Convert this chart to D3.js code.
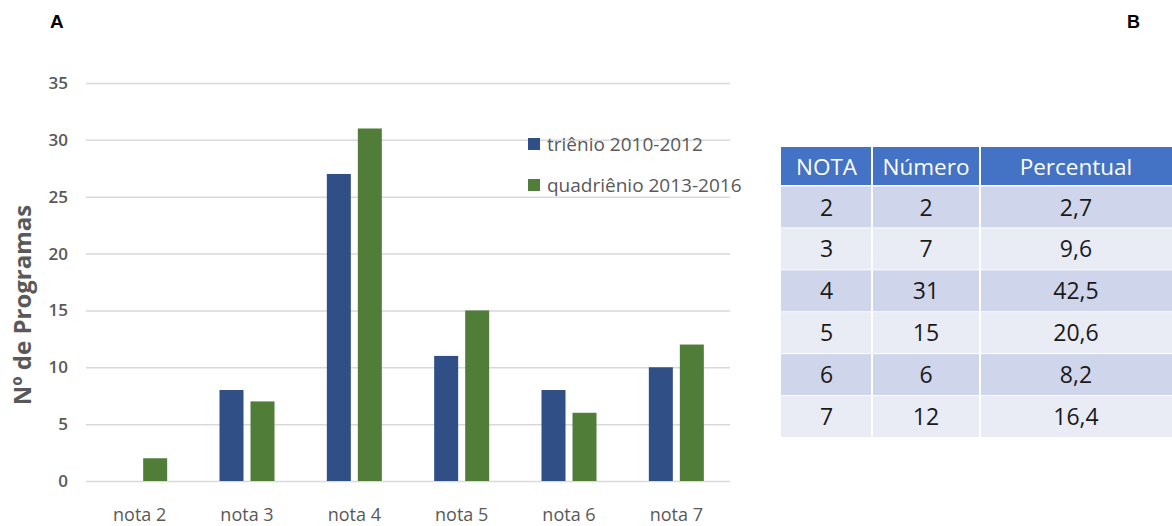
<!DOCTYPE html>
<html>
<head>
<meta charset="utf-8">
<script src="https://cdn.jsdelivr.net/npm/d3@7"></script>
<style>
  body { margin: 0; background: #ffffff; }
  svg { display: block; }
  .grid line { stroke: #d9d9d9; stroke-width: 1.5; }
  .grid .domain { display: none; }
</style>
</head>
<body>
<script>
const categories = ["nota 2", "nota 3", "nota 4", "nota 5", "nota 6", "nota 7"];
const seriesNames = ["triênio 2010-2012", "quadriênio 2013-2016"];
const trienio = [0, 8, 27, 11, 8, 10];
const quadrienio = [2, 7, 31, 15, 6, 12];
const yTicks = [0, 5, 10, 15, 20, 25, 30, 35];

const tableHeader = ["NOTA", "Número", "Percentual"];
const tableNota = ["2", "3", "4", "5", "6", "7"];
const tableNumero = ["2", "7", "31", "15", "6", "12"];
const tablePercentual = ["2,7", "9,6", "42,5", "20,6", "8,2", "16,4"];

const colors = ["#2f4f86", "#507e38"];
const font = "'Open Sans', sans-serif";

const W = 1172, H = 526;
const svg = d3.select("body").append("svg")
    .attr("width", W)
    .attr("height", H)
    .style("font-family", font);

// panel letters
svg.append("text").attr("x", 50).attr("y", 28)
    .style("font-family", "'Liberation Sans', Arial, sans-serif")
    .style("font-weight", "bold").style("font-size", "19px").text("A");
svg.append("text").attr("x", 1127).attr("y", 28)
    .style("font-family", "'Liberation Sans', Arial, sans-serif")
    .style("font-weight", "bold").style("font-size", "18px").text("B");

// ---- chart A ----
const x0 = d3.scaleBand().domain(categories).range([86, 730]);
const x1 = d3.scaleBand().domain(seriesNames)
    .range([x0.bandwidth() / 2 - 27.5, x0.bandwidth() / 2 + 27.5])
    .paddingInner(7 / 31);
const y = d3.scaleLinear().domain([0, 35]).range([481, 83]);

svg.append("g")
    .attr("class", "grid")
    .attr("transform", "translate(86,0)")
    .call(d3.axisLeft(y).tickValues(yTicks).tickSize(-644).tickFormat(""));

svg.append("g").selectAll("text")
    .data(yTicks)
    .enter().append("text")
    .attr("x", 68)
    .attr("y", d => y(d))
    .attr("dy", "0.35em")
    .attr("text-anchor", "end")
    .style("font-size", "17px")
    .style("font-weight", "600")
    .style("fill", "#595959")
    .text(d => d);

const series = [trienio, quadrienio];
series.forEach((vals, s) => {
    svg.append("g").selectAll("rect")
        .data(vals)
        .enter().append("rect")
        .attr("x", (d, i) => x0(categories[i]) + x1(seriesNames[s]))
        .attr("y", d => y(d))
        .attr("width", x1.bandwidth())
        .attr("height", d => y(0) - y(d))
        .attr("fill", colors[s]);
});

svg.append("g").selectAll("text")
    .data(categories)
    .enter().append("text")
    .attr("x", d => x0(d) + x0.bandwidth() / 2)
    .attr("y", 521)
    .attr("text-anchor", "middle")
    .style("font-size", "18px")
    .style("fill", "#595959")
    .text(d => d);

svg.append("text")
    .attr("transform", "translate(31,305) rotate(-90)")
    .attr("text-anchor", "middle")
    .style("font-size", "24px")
    .style("font-weight", "bold")
    .style("fill", "#595959")
    .text("Nº de Programas");

// legend
const legend = svg.append("g").selectAll("g")
    .data(seriesNames)
    .enter().append("g")
    .attr("transform", (d, i) => "translate(528," + (138 + i * 41) + ")");
legend.append("rect").attr("width", 12).attr("height", 12)
    .attr("fill", (d, i) => colors[i]);
legend.append("text").attr("x", 19).attr("y", 6).attr("dy", "0.35em")
    .style("font-size", "19px").style("fill", "#595959")
    .text(d => d);

// ---- table B ----
const colEdges = [781, 872, 980, 1172];
const rowY = d3.scaleBand().domain(d3.range(6)).range([185.5, 437]);
const cols = [tableNota, tableNumero, tablePercentual];

const head = svg.append("g");
head.selectAll("rect")
    .data(tableHeader)
    .enter().append("rect")
    .attr("x", (d, i) => colEdges[i])
    .attr("y", 147)
    .attr("width", (d, i) => colEdges[i + 1] - colEdges[i])
    .attr("height", 38)
    .attr("fill", "#4472c4");
head.selectAll("text")
    .data(tableHeader)
    .enter().append("text")
    .attr("x", (d, i) => (colEdges[i] + colEdges[i + 1]) / 2)
    .attr("y", 167)
    .attr("dy", "0.35em")
    .attr("text-anchor", "middle")
    .style("font-size", "22.5px")
    .style("fill", "#ffffff")
    .text(d => d);

const rows = svg.append("g").selectAll("g")
    .data(d3.range(6))
    .enter().append("g");
rows.append("rect")
    .attr("x", colEdges[0])
    .attr("y", i => rowY(i) + 1)
    .attr("width", colEdges[3] - colEdges[0])
    .attr("height", rowY.bandwidth() - 1)
    .attr("fill", i => i % 2 === 0 ? "#cfd5ea" : "#e9ebf5");
cols.forEach((col, c) => {
    rows.append("text")
        .attr("x", (colEdges[c] + colEdges[c + 1]) / 2)
        .attr("y", i => rowY(i) + rowY.bandwidth() / 2 + 1)
        .attr("dy", "0.35em")
        .attr("text-anchor", "middle")
        .style("font-size", "23px")
        .style("fill", "#1a1a1a")
        .text(i => col[i]);
});

// white column separators
svg.append("g").selectAll("line")
    .data(colEdges.slice(1, 3))
    .enter().append("line")
    .attr("x1", d => d).attr("x2", d => d)
    .attr("y1", 147).attr("y2", 437)
    .attr("stroke", "#ffffff").attr("stroke-width", 2);
</script>
</body>
</html>
